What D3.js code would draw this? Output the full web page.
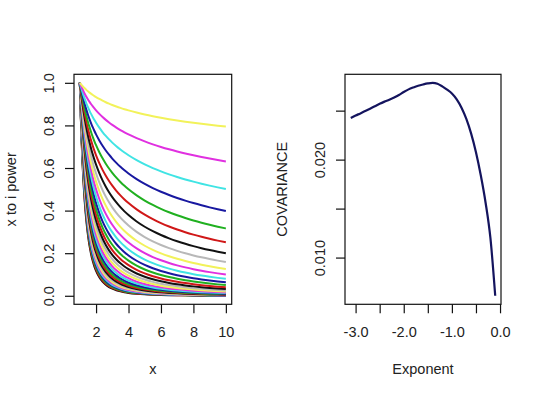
<!DOCTYPE html>
<html>
<head>
<meta charset="utf-8">
<script src="https://cdn.jsdelivr.net/npm/d3@7"></script>
<style>
html,body{margin:0;padding:0;background:#fff;}
svg{display:block;}
text{font-family:"Liberation Sans",Arial,sans-serif;fill:#222;}
</style>
</head>
<body>
<svg id="chart" width="540" height="397"></svg>
<script>
// ---- data ----
// exponents i (the curves plotted in the left panel, x^i)
const exponents = [-3.1,-3.0,-2.9,-2.8,-2.7,-2.6,-2.5,-2.4,-2.3,-2.2,-2.1,-2.0,-1.9,-1.8,-1.7,-1.6,
                   -1.5,-1.4,-1.3,-1.2,-1.1,-1.0,-0.9,-0.8,-0.7,-0.6,-0.5,-0.4,-0.3,-0.2,-0.1];
// x grid of the left panel
const xGrid = [1,1.05,1.1,1.15,1.2,1.25,1.3,1.4,1.5,1.6,1.7,1.8,1.9,2,2.2,2.4,2.6,2.8,3,3.25,3.5,3.75,
               4,4.5,5,5.5,6,6.5,7,7.5,8,8.5,9,9.5,10];
// covariance for each exponent (right panel)
const covariance = [0.02425,0.02450,0.02472,0.02496,0.02520,0.02545,0.02570,0.02592,0.02612,0.02635,
                    0.02660,0.02690,0.02717,0.02737,0.02754,0.02767,0.02778,0.02784,0.02775,0.02748,
                    0.02714,0.02675,0.02615,0.02530,0.02415,0.02265,0.02075,0.01840,0.01560,0.01200,0.00610];
// R default palette cycle
const palette = ["#111111","#d01818","#20b020","#1818a0","#40e4e4","#e030e0","#f2f25a","#b8b8b8"];
const leftXTicks = [2,4,6,8,10];
const leftYTicks = [0,0.2,0.4,0.6,0.8,1.0];
const rightXTicks = [-3.0,-2.5,-2.0,-1.5,-1.0,-0.5,0.0];
const rightXLabels = ["-3.0","","-2.0","","-1.0","","0.0"];
const rightYTicks = [0.010,0.015,0.020,0.025];
const rightYLabels = ["0.010","","0.020",""];

const svg = d3.select("#chart");
svg.append("rect").attr("width",540).attr("height",397).attr("fill","#fff");

const yTop = 74.3, yBot = 304.3;
const FS = 14.5;

function pad(ext){ const d = ext[1]-ext[0]; return [ext[0]-0.04*d, ext[1]+0.04*d]; }

// ---------- left panel ----------
const L = {x0:74, x1:231.7};
const xL = d3.scaleLinear().domain(pad(d3.extent(xGrid))).range([L.x0, L.x1]);
const yL = d3.scaleLinear().domain(pad([0,1])).range([yBot, yTop]);

const gL = svg.append("g");
svg.append("clipPath").attr("id","clipL").append("rect")
  .attr("x",L.x0).attr("y",yTop).attr("width",L.x1-L.x0).attr("height",yBot-yTop);
const lineL = d3.line().x(d=>xL(d[0])).y(d=>yL(d[1])).curve(d3.curveMonotoneX);
exponents.forEach((e,j)=>{
  const pts = xGrid.map(x=>[x, Math.pow(x,e)]);
  gL.append("path").attr("d",lineL(pts)).attr("fill","none")
    .attr("stroke",palette[j%8]).attr("stroke-width",2).attr("clip-path","url(#clipL)");
});
gL.append("rect").attr("x",L.x0).attr("y",yTop).attr("width",L.x1-L.x0).attr("height",yBot-yTop)
  .attr("fill","none").attr("stroke","#111").attr("stroke-width",1.2);

const axLX = d3.axisBottom(xL).tickValues(leftXTicks).tickSize(9).tickPadding(5).tickFormat(d3.format("d"));
const gAxLX = svg.append("g").attr("transform",`translate(0,${yBot})`).call(axLX);
const axLY = d3.axisLeft(yL).tickValues(leftYTicks).tickSize(9).tickFormat(d3.format(".1f"));
const gAxLY = svg.append("g").attr("transform",`translate(${L.x0},0)`).call(axLY);

// ---------- right panel ----------
const R = {x0:345, x1:501};
const xR = d3.scaleLinear().domain(pad(d3.extent(exponents))).range([R.x0, R.x1]);
const yR = d3.scaleLinear().domain(pad(d3.extent(covariance))).range([yBot, yTop]);
const gR = svg.append("g");
const lineR = d3.line().x((d,i)=>xR(exponents[i])).y(d=>yR(d)).curve(d3.curveMonotoneX);
gR.append("path").attr("d",lineR(covariance)).attr("fill","none")
  .attr("stroke","#14145e").attr("stroke-width",2.2);
gR.append("rect").attr("x",R.x0).attr("y",yTop).attr("width",R.x1-R.x0).attr("height",yBot-yTop)
  .attr("fill","none").attr("stroke","#111").attr("stroke-width",1.2);

const axRX = d3.axisBottom(xR).tickValues(rightXTicks).tickSize(9).tickPadding(5)
  .tickFormat((d,i)=>rightXLabels[i]);
const gAxRX = svg.append("g").attr("transform",`translate(0,${yBot})`).call(axRX);
const axRY = d3.axisLeft(yR).tickValues(rightYTicks).tickSize(9).tickFormat((d,i)=>rightYLabels[i]);
const gAxRY = svg.append("g").attr("transform",`translate(${R.x0},0)`).call(axRY);

[gAxLX,gAxLY,gAxRX,gAxRY].forEach(g=>{
  g.select(".domain").remove();
  g.selectAll(".tick line").attr("stroke","#111").attr("stroke-width",1.2);
  g.selectAll(".tick text").attr("font-size",FS).attr("font-family","Liberation Sans, Arial, sans-serif").attr("fill","#222");
});
[gAxLX,gAxRX].forEach(g=>{
  g.selectAll(".tick text").attr("dy",null).attr("y",337-yBot);
});
[gAxLY,gAxRY].forEach(g=>{
  g.selectAll(".tick text").attr("x",null).attr("dy",null)
    .attr("text-anchor","middle")
    .attr("transform","translate(-20.5,0) rotate(-90)");
});

svg.append("text").attr("x",(L.x0+L.x1)/2).attr("y",374).attr("text-anchor","middle")
  .attr("font-size",FS).text("x");
svg.append("text").attr("x",(R.x0+R.x1)/2).attr("y",374).attr("text-anchor","middle")
  .attr("font-size",FS).text("Exponent");
svg.append("text").attr("transform",`translate(16.2,${(yTop+yBot)/2}) rotate(-90)`)
  .attr("text-anchor","middle").attr("font-size",FS).text("x to i power");
svg.append("text").attr("transform",`translate(286.7,${(yTop+yBot)/2}) rotate(-90)`)
  .attr("text-anchor","middle").attr("font-size",FS).text("COVARIANCE");
</script>
</body>
</html>
